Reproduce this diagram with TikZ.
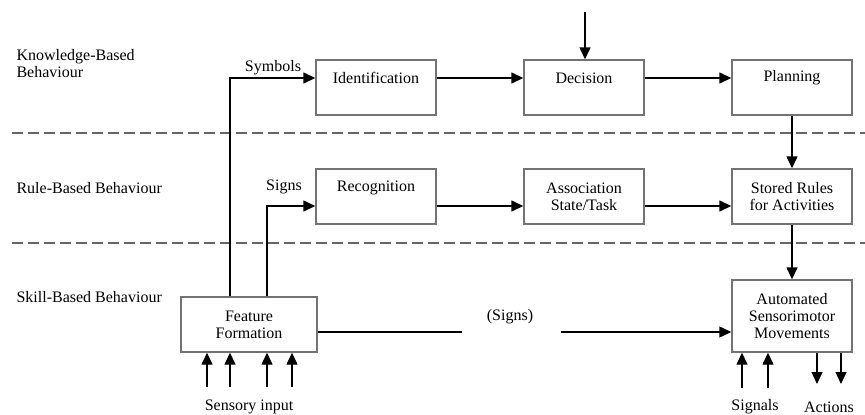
\documentclass[tikz,border=0pt]{standalone}
\usepackage{fontspec}
\setmainfont{Liberation Serif}
\usetikzlibrary{arrows.meta}

\begin{document}
\begin{tikzpicture}
[x=1pt,y=-1pt,font=\fontsize{16}{17}\selectfont,
  boxdecorate/.style={shape=rectangle,draw=black!55,line width=1.4pt,minimum width=120pt,minimum height=55pt,align=center,inner sep=0pt},
  arrowdecorate/.style={-{Triangle[length=12pt,width=11pt]},line width=1.4pt},
  linedecorate/.style={line width=1.4pt},
  leveldecorate/.style={draw=black!60,line width=2pt,dash pattern=on 11pt off 5pt}]
\useasboundingbox (0,0) rectangle (865,415);
% level labels
\node (kb) at (13,64) [anchor=west,align=left] {Knowledge-Based\\Behaviour};
\node (rb) at (13,188) [anchor=west] {Rule-Based Behaviour};
\node (sb) at (13,297) [anchor=west] {Skill-Based Behaviour};
% level borders
\draw[leveldecorate] (12,133) -- (865,133);
\draw[leveldecorate] (12,243) -- (865,243);
% knowledge level
\node (ident) at (376,87.5) [boxdecorate] {};
\node (identtext) at (376,78) {Identification};
\node (dec) at (584,87.5) [boxdecorate] {};
\node (dectext) at (584,78) {Decision};
\node (plan) at (792,87.5) [boxdecorate] {};
\node (plantext) at (792,78) {Planning};
% rule level
\node (recog) at (376,196.5) [boxdecorate] {};
\node (recogtext) at (376,188) {Recognition};
\node (assoc) at (584,196.5) [boxdecorate] {Association\\State/Task};
\node (rules) at (792,196.5) [boxdecorate] {Stored Rules\\for Activities};
% skill level
\node (feat) at (249,324.5) [boxdecorate,minimum width=136pt] {Feature\\Formation};
\node (auto) at (792,316) [boxdecorate,minimum height=72pt] {Automated\\Sensorimotor\\Movements};
% helper points
\coordinate (goal) at (585,12);
\coordinate (symb) at (230,78);
\coordinate (sign) at (267,206);
\coordinate (signl) at (462,332);
\coordinate (signr) at (561,332);
% labels
\node (symbtext) at (273,68) {Symbols};
\node (signtext) at (284,187) {Signs};
\node (signstext) at (510,317) {(Signs)};
\node (sensetext) at (249,407) {Sensory input};
\node (signaltext) at (755,407) {Signals};
\node (actiontext) at (829,407) {Actions};
% edges or lines
\draw[arrowdecorate] (goal) -- (goal |- dec.north);
\draw[arrowdecorate] (symb |- feat.north) -- (symb) -- (symb -| ident.west);
\draw[arrowdecorate] (sign |- feat.north) -- (sign) -- (sign -| recog.west);
\draw[arrowdecorate] (ident.east |- identtext) -- (dec.west |- dectext);
\draw[arrowdecorate] (dec.east |- dectext) -- (plan.west |- plantext);
\draw[arrowdecorate] (recog.east |- sign) -- (assoc.west |- sign);
\draw[arrowdecorate] (assoc.east |- sign) -- (rules.west |- sign);
\draw[arrowdecorate] (plan.south) -- (rules.north);
\draw[arrowdecorate] (rules.south) -- (auto.north);
\draw[linedecorate] (feat.east |- signl) -- (signl);
\draw[arrowdecorate] (signr) -- (auto.west |- signr);
% inputs and outputs
\foreach \x in {207,230,267,292}
  {\coordinate (in\x) at (\x,387);
   \draw[arrowdecorate] (in\x) -- (in\x |- feat.south);}
\foreach \x in {742,768}
  {\coordinate (sig\x) at (\x,388);
   \draw[arrowdecorate] (sig\x) -- (sig\x |- auto.south);}
\foreach \x in {817,841}
  {\coordinate (act\x) at (\x,384);
   \draw[arrowdecorate] (act\x |- auto.south) -- (act\x);}
\end{tikzpicture}
\end{document}
